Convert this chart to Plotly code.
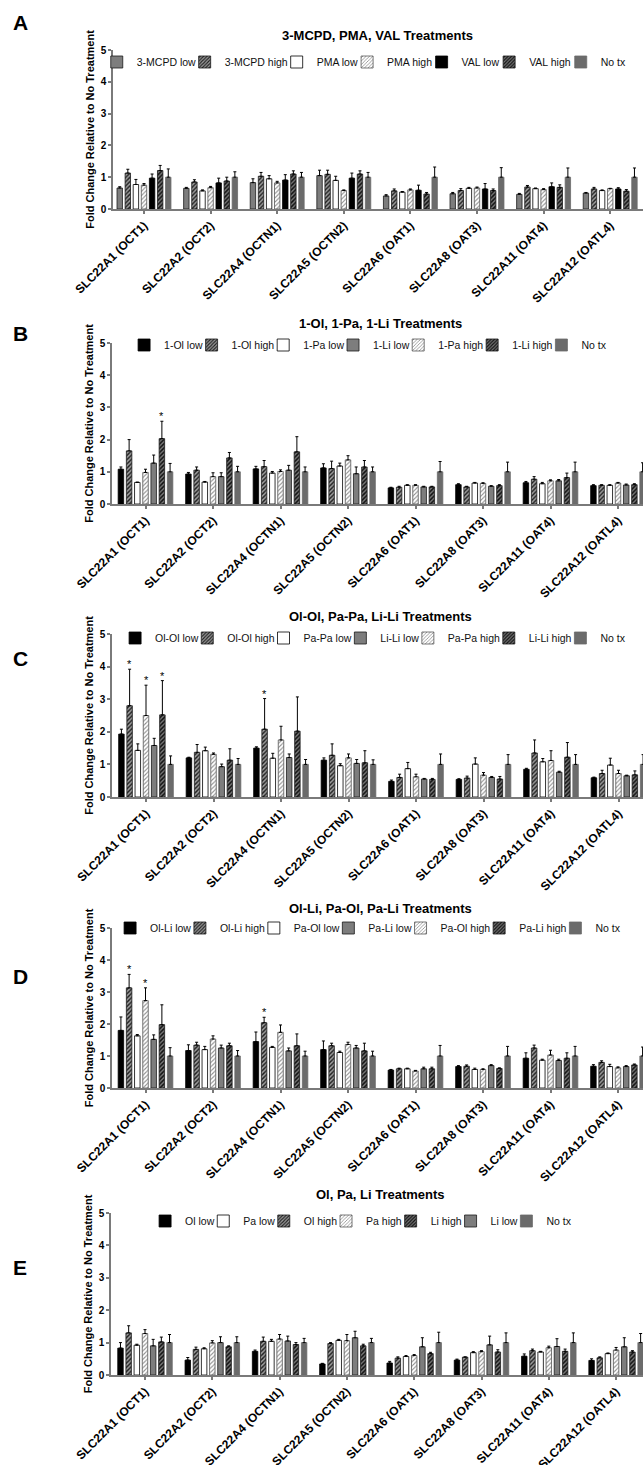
import plotly.graph_objects as go

FIG_W, FIG_H = 643, 1465
FONT = "Liberation Sans, Arial, sans-serif"

categories = ["SLC22A1 (OCT1)", "SLC22A2 (OCT2)", "SLC22A4 (OCTN1)", "SLC22A5 (OCTN2)",
              "SLC22A6 (OAT1)", "SLC22A8 (OAT3)", "SLC22A11 (OAT4)", "SLC22A12 (OATL4)"]
y_ticks = [0, 1, 2, 3, 4, 5]

# ---------------- Panel A: 3-MCPD, PMA, VAL ----------------
a_names = ["3-MCPD low", "3-MCPD high", "PMA low", "PMA high", "VAL low", "VAL high", "No tx"]
a_mcpd_low = [0.66, 0.65, 0.83, 1.05, 0.41, 0.48, 0.46, 0.50]
a_mcpd_low_err = [0.04, 0.03, 0.12, 0.17, 0.04, 0.04, 0.03, 0.02]
a_mcpd_high = [1.13, 0.85, 1.03, 1.09, 0.57, 0.58, 0.69, 0.63]
a_mcpd_high_err = [0.12, 0.07, 0.12, 0.13, 0.06, 0.06, 0.05, 0.05]
a_pma_low = [0.77, 0.57, 0.95, 0.90, 0.53, 0.65, 0.64, 0.58]
a_pma_low_err = [0.16, 0.03, 0.10, 0.13, 0.02, 0.03, 0.02, 0.02]
a_pma_high = [0.75, 0.67, 0.82, 0.58, 0.60, 0.66, 0.61, 0.64]
a_pma_high_err = [0.05, 0.04, 0.05, 0.02, 0.03, 0.03, 0.03, 0.01]
a_val_low = [0.97, 0.82, 0.91, 0.97, 0.59, 0.63, 0.70, 0.63]
a_val_low_err = [0.13, 0.15, 0.17, 0.16, 0.16, 0.17, 0.12, 0.04]
a_val_high = [1.21, 0.88, 1.10, 1.10, 0.47, 0.58, 0.68, 0.56]
a_val_high_err = [0.16, 0.12, 0.10, 0.10, 0.05, 0.05, 0.08, 0.05]
a_notx = [1.0, 1.0, 1.0, 1.0, 1.0, 1.0, 1.0, 1.0]
a_notx_err = [0.26, 0.17, 0.15, 0.15, 0.32, 0.30, 0.29, 0.29]

# ---------------- Panel B: 1-Ol, 1-Pa, 1-Li ----------------
b_names = ["1-Ol low", "1-Ol high", "1-Pa low", "1-Pa high", "1-Li low", "1-Li high", "No tx"]
b_ol_low = [1.08, 0.93, 1.09, 1.12, 0.50, 0.60, 0.66, 0.57]
b_ol_low_err = [0.07, 0.05, 0.08, 0.13, 0.02, 0.03, 0.04, 0.03]
b_ol_high = [1.65, 1.05, 1.16, 1.10, 0.52, 0.53, 0.77, 0.58]
b_ol_high_err = [0.35, 0.10, 0.19, 0.23, 0.03, 0.02, 0.08, 0.02]
b_pa_low = [0.67, 0.68, 0.96, 1.18, 0.58, 0.65, 0.63, 0.58]
b_pa_low_err = [0.01, 0.02, 0.05, 0.09, 0.02, 0.02, 0.04, 0.02]
b_pa_high = [0.98, 0.85, 1.01, 1.37, 0.58, 0.64, 0.72, 0.65]
b_pa_high_err = [0.10, 0.12, 0.05, 0.13, 0.02, 0.02, 0.03, 0.02]
b_li_low = [1.27, 0.85, 1.05, 0.94, 0.53, 0.55, 0.72, 0.59]
b_li_low_err = [0.25, 0.12, 0.15, 0.21, 0.02, 0.02, 0.04, 0.03]
b_li_high = [2.03, 1.43, 1.62, 1.15, 0.53, 0.57, 0.82, 0.60]
b_li_high_err = [0.54, 0.17, 0.47, 0.20, 0.02, 0.03, 0.14, 0.03]
b_notx = [1.0, 1.0, 1.0, 1.0, 1.0, 1.0, 1.0, 1.0]
b_notx_err = [0.26, 0.17, 0.15, 0.15, 0.32, 0.30, 0.30, 0.28]

# ---------------- Panel C: Ol-Ol, Pa-Pa, Li-Li ----------------
c_names = ["Ol-Ol low", "Ol-Ol high", "Pa-Pa low", "Pa-Pa high", "Li-Li low", "Li-Li high", "No tx"]
c_olol_low = [1.93, 1.20, 1.50, 1.13, 0.48, 0.54, 0.85, 0.59]
c_olol_low_err = [0.15, 0.02, 0.04, 0.07, 0.04, 0.02, 0.03, 0.02]
c_olol_high = [2.80, 1.37, 2.08, 1.28, 0.60, 0.58, 1.35, 0.72]
c_olol_high_err = [1.12, 0.24, 0.94, 0.35, 0.10, 0.06, 0.40, 0.10]
c_papa_low = [1.43, 1.42, 1.19, 0.96, 0.87, 1.01, 1.08, 0.98]
c_papa_low_err = [0.20, 0.11, 0.15, 0.06, 0.19, 0.19, 0.10, 0.21]
c_papa_high = [2.50, 1.31, 1.75, 1.20, 0.62, 0.67, 1.12, 0.72]
c_papa_high_err = [0.93, 0.04, 0.42, 0.12, 0.08, 0.08, 0.30, 0.10]
c_lili_low = [1.58, 0.93, 1.21, 1.03, 0.55, 0.60, 0.76, 0.65]
c_lili_low_err = [0.22, 0.08, 0.11, 0.12, 0.02, 0.03, 0.03, 0.02]
c_lili_high = [2.52, 1.13, 2.02, 1.05, 0.54, 0.55, 1.22, 0.68]
c_lili_high_err = [1.05, 0.35, 1.05, 0.37, 0.03, 0.08, 0.45, 0.12]
c_notx = [1.0, 1.0, 1.0, 1.0, 1.0, 1.0, 1.0, 1.0]
c_notx_err = [0.26, 0.18, 0.15, 0.14, 0.32, 0.30, 0.30, 0.30]

# ---------------- Panel D: Ol-Li, Pa-Ol, Pa-Li ----------------
d_names = ["Ol-Li low", "Ol-Li high", "Pa-Ol low", "Pa-Ol high", "Pa-Li low", "Pa-Li high", "No tx"]
d_olli_low = [1.80, 1.17, 1.45, 1.20, 0.56, 0.67, 0.93, 0.68]
d_olli_low_err = [0.42, 0.18, 0.30, 0.27, 0.02, 0.03, 0.17, 0.05]
d_olli_high = [3.13, 1.34, 2.04, 1.32, 0.60, 0.68, 1.25, 0.80]
d_olli_high_err = [0.42, 0.09, 0.17, 0.08, 0.02, 0.04, 0.09, 0.05]
d_paol_low = [1.63, 1.20, 1.27, 1.11, 0.60, 0.58, 0.87, 0.67]
d_paol_low_err = [0.04, 0.10, 0.03, 0.04, 0.02, 0.04, 0.03, 0.07]
d_paol_high = [2.73, 1.53, 1.74, 1.36, 0.53, 0.58, 1.03, 0.63]
d_paol_high_err = [0.40, 0.10, 0.23, 0.07, 0.02, 0.02, 0.15, 0.03]
d_pali_low = [1.52, 1.25, 1.16, 1.25, 0.60, 0.70, 0.86, 0.67]
d_pali_low_err = [0.14, 0.09, 0.09, 0.08, 0.05, 0.03, 0.04, 0.03]
d_pali_high = [1.98, 1.32, 1.32, 1.16, 0.60, 0.61, 0.93, 0.72]
d_pali_high_err = [0.62, 0.08, 0.37, 0.24, 0.05, 0.02, 0.17, 0.03]
d_notx = [1.0, 1.0, 1.0, 1.0, 1.0, 1.0, 1.0, 1.0]
d_notx_err = [0.26, 0.17, 0.15, 0.15, 0.33, 0.30, 0.30, 0.28]

# ---------------- Panel E: Ol, Pa, Li ----------------
e_names = ["Ol low", "Ol high", "Pa low", "Pa high", "Li low", "Li high", "No tx"]
e_ol_low = [0.83, 0.46, 0.73, 0.34, 0.37, 0.46, 0.58, 0.45]
e_ol_low_err = [0.17, 0.08, 0.04, 0.02, 0.05, 0.03, 0.07, 0.05]
e_ol_high = [1.30, 0.79, 1.04, 0.97, 0.52, 0.55, 0.75, 0.53]
e_ol_high_err = [0.22, 0.07, 0.13, 0.03, 0.04, 0.01, 0.05, 0.03]
e_pa_low = [0.92, 0.81, 1.04, 1.07, 0.57, 0.69, 0.71, 0.66]
e_pa_low_err = [0.03, 0.03, 0.06, 0.03, 0.03, 0.03, 0.02, 0.02]
e_pa_high = [1.28, 0.99, 1.11, 1.06, 0.60, 0.72, 0.84, 0.77]
e_pa_high_err = [0.12, 0.07, 0.14, 0.19, 0.03, 0.03, 0.05, 0.08]
e_li_low = [0.90, 1.00, 1.05, 1.15, 0.87, 0.93, 0.88, 0.87]
e_li_low_err = [0.20, 0.18, 0.15, 0.20, 0.28, 0.27, 0.24, 0.28]
e_li_high = [1.02, 0.87, 0.94, 0.90, 0.66, 0.71, 0.73, 0.71]
e_li_high_err = [0.15, 0.03, 0.06, 0.05, 0.04, 0.07, 0.07, 0.04]
e_notx = [1.0, 1.0, 1.0, 1.0, 1.0, 1.0, 1.0, 1.0]
e_notx_err = [0.25, 0.18, 0.13, 0.13, 0.32, 0.30, 0.30, 0.28]

# significance marks: (series index, category index)
b_stars = [(5, 0)]
c_stars = [(1, 0), (3, 0), (5, 0), (1, 2)]
d_stars = [(1, 0), (3, 0), (1, 2)]

# ---------------- styles ----------------
OUT = "#1a1a1a"
STYLES = {
    "black": dict(color="#000000", line=dict(color="#000000", width=0.8)),
    "white": dict(color="#ffffff", line=dict(color="#000000", width=0.8)),
    "gray": dict(color="#7d7d7d", line=dict(color=OUT, width=0.8)),
    "darkhatch": dict(color="#9c9c9c", line=dict(color=OUT, width=0.8),
                      pattern=dict(shape="/", fgcolor="#1e1e1e", bgcolor="#9c9c9c", size=3, solidity=0.45)),
    "lighthatch": dict(color="#ffffff", line=dict(color="#555555", width=0.8),
                       pattern=dict(shape="/", fgcolor="#8f8f8f", bgcolor="#ffffff", size=3, solidity=0.35)),
    "darkhatch2": dict(color="#777777", line=dict(color=OUT, width=0.8),
                       pattern=dict(shape="/", fgcolor="#111111", bgcolor="#777777", size=3, solidity=0.5)),
    "notx": dict(color="#6b6b6b", line=dict(color="#6b6b6b", width=0.8)),
}
STD = ["black", "darkhatch", "white", "lighthatch", "gray", "darkhatch2", "notx"]

panels = [
    dict(letter="A", title="3-MCPD, PMA, VAL Treatments", names=a_names,
         means=[a_mcpd_low, a_mcpd_high, a_pma_low, a_pma_high, a_val_low, a_val_high, a_notx],
         errs=[a_mcpd_low_err, a_mcpd_high_err, a_pma_low_err, a_pma_high_err, a_val_low_err, a_val_high_err, a_notx_err],
         styles=["gray", "darkhatch", "white", "lighthatch", "black", "darkhatch2", "notx"],
         legend_order=[0, 1, 2, 3, 4, 5, 6], stars=[],
         x_left=113, c0=144, step=66.6, y_top=50, y_bot=209,
         title_x=377, title_y=35, legend_cx=368, legend_y=62, letter_y=23),
    dict(letter="B", title="1-Ol, 1-Pa, 1-Li Treatments", names=b_names,
         means=[b_ol_low, b_ol_high, b_pa_low, b_pa_high, b_li_low, b_li_high, b_notx],
         errs=[b_ol_low_err, b_ol_high_err, b_pa_low_err, b_pa_high_err, b_li_low_err, b_li_high_err, b_notx_err],
         styles=STD, legend_order=[0, 1, 2, 4, 3, 5, 6], stars=b_stars,
         x_left=112, c0=145.5, step=67.5, y_top=343, y_bot=504,
         title_x=380, title_y=323, legend_cx=372, legend_y=345, letter_y=333),
    dict(letter="C", title="Ol-Ol, Pa-Pa, Li-Li Treatments", names=c_names,
         means=[c_olol_low, c_olol_high, c_papa_low, c_papa_high, c_lili_low, c_lili_high, c_notx],
         errs=[c_olol_low_err, c_olol_high_err, c_papa_low_err, c_papa_high_err, c_lili_low_err, c_lili_high_err, c_notx_err],
         styles=STD, legend_order=[0, 1, 2, 4, 3, 5, 6], stars=c_stars,
         x_left=112, c0=146, step=67.5, y_top=634, y_bot=797,
         title_x=380, title_y=616, legend_cx=377, legend_y=638, letter_y=658),
    dict(letter="D", title="Ol-Li, Pa-Ol, Pa-Li Treatments", names=d_names,
         means=[d_olli_low, d_olli_high, d_paol_low, d_paol_high, d_pali_low, d_pali_high, d_notx],
         errs=[d_olli_low_err, d_olli_high_err, d_paol_low_err, d_paol_high_err, d_pali_low_err, d_pali_high_err, d_notx_err],
         styles=STD, legend_order=[0, 1, 2, 4, 3, 5, 6], stars=d_stars,
         x_left=112, c0=145.5, step=67.5, y_top=928, y_bot=1088,
         title_x=380, title_y=908, legend_cx=372, legend_y=928, letter_y=976),
    dict(letter="E", title="Ol, Pa, Li Treatments", names=e_names,
         means=[e_ol_low, e_ol_high, e_pa_low, e_pa_high, e_li_low, e_li_high, e_notx],
         errs=[e_ol_low_err, e_ol_high_err, e_pa_low_err, e_pa_high_err, e_li_low_err, e_li_high_err, e_notx_err],
         styles=STD, legend_order=[0, 2, 1, 3, 5, 4, 6], stars=[],
         x_left=111, c0=145, step=67.3, y_top=1213, y_bot=1375,
         title_x=380, title_y=1194, legend_cx=365, legend_y=1221, letter_y=1267),
]

# Arial advance widths (1/1000 em) for legend layout
ARIAL = {" ": 278, "-": 333, "A": 667, "C": 722, "D": 722, "L": 556, "M": 833, "N": 722,
         "O": 778, "P": 667, "V": 667, "a": 556, "g": 556, "h": 556, "i": 222, "l": 222,
         "o": 556, "t": 278, "w": 722, "x": 500}


def text_w(s, size):
    return sum(ARIAL.get(ch, 556) for ch in s) * size / 1000.0


LEG_SIZE = 10.5
BARGAP = 0.15
NSER = 7
AXC = "#7a7a7a"

fig = go.Figure()
layout = dict(
    width=FIG_W, height=FIG_H, margin=dict(l=0, r=0, t=0, b=0),
    paper_bgcolor="white", plot_bgcolor="white", template="none",
    barmode="group", bargap=BARGAP, bargroupgap=0.33,
    font=dict(family=FONT, color="#000000"),
    annotations=[],
)

for i, p in enumerate(panels):
    n = "" if i == 0 else str(i + 1)
    xa, ya, lg = "x" + n, "y" + n, "legend" + n

    # legend geometry (per-item widths)
    order = p["legend_order"]
    tws = [text_w(p["names"][k], LEG_SIZE) for k in order]
    pitches = [tw + 29 for tw in tws[:-1]]
    span = sum(pitches) + 40 + tws[-1] - 14
    start0 = p["legend_cx"] - span / 2 - 14
    lw_by_series = {}
    for pos, k in enumerate(order):
        lw_by_series[k] = (pitches[pos] - 45) if pos < len(order) - 1 else tws[-1]

    for k in range(NSER):
        fig.add_trace(go.Bar(
            x=categories, y=p["means"][k], name=p["names"][k],
            marker=STYLES[p["styles"][k]],
            error_y=dict(type="data", array=p["errs"][k], arrayminus=[0] * len(categories),
                         symmetric=False, color="#000000", thickness=1, width=1.5),
            xaxis=xa, yaxis=ya, legend=lg,
            legendrank=order.index(k) + 1, legendwidth=lw_by_series[k],
            hoverinfo="skip",
        ))

    r0 = (p["x_left"] - p["c0"]) / p["step"]
    r1 = (FIG_W - p["c0"]) / p["step"]
    layout["xaxis" + n] = dict(
        domain=[p["x_left"] / FIG_W, 1], range=[r0, r1], anchor=ya, type="category",
        showline=True, linecolor=AXC, linewidth=1.5, ticks="outside", ticklen=3,
        tickcolor=AXC, tickwidth=1.5, tickangle=-45, showgrid=False, zeroline=False,
        tickfont=dict(family=FONT, size=12, weight="bold", color="#000000"),
        automargin=False, fixedrange=True,
    )
    layout["yaxis" + n] = dict(
        domain=[1 - p["y_bot"] / FIG_H, 1 - p["y_top"] / FIG_H], range=[0, 5], anchor=xa,
        tickvals=y_ticks, showline=True, linecolor=AXC, linewidth=1.5, ticks="outside",
        ticklen=3, tickcolor=AXC, tickwidth=1.5, showgrid=False, zeroline=False,
        tickfont=dict(family=FONT, size=10, weight="bold", color="#000000"),
        title=dict(text="Fold Change Relative to No Treatment", standoff=4,
                   font=dict(family=FONT, size=11, weight="bold", color="#000000")),
        automargin=False, fixedrange=True,
    )
    layout[lg] = dict(
        orientation="h", x=start0 / FIG_W, xanchor="left", xref="paper",
        y=1 - p["legend_y"] / FIG_H, yanchor="middle", yref="paper",
        bgcolor="rgba(0,0,0,0)", borderwidth=0, traceorder="normal",
        font=dict(family=FONT, size=LEG_SIZE, color="#111111"),
    )
    # panel letter and title
    layout["annotations"].append(dict(
        text=p["letter"], x=20 / FIG_W, y=1 - p["letter_y"] / FIG_H, xref="paper", yref="paper",
        xanchor="center", yanchor="middle", showarrow=False,
        font=dict(family=FONT, size=21, weight="bold", color="#000000")))
    layout["annotations"].append(dict(
        text=p["title"], x=p["title_x"] / FIG_W, y=1 - p["title_y"] / FIG_H, xref="paper", yref="paper",
        xanchor="center", yanchor="middle", showarrow=False,
        font=dict(family=FONT, size=13, weight="bold", color="#000000")))
    # significance asterisks, positioned from the grouped-bar geometry
    slot = (1 - BARGAP) / NSER
    for (k, c) in p["stars"]:
        layout["annotations"].append(dict(
            text="*", x=c + (k - (NSER - 1) / 2) * slot, y=p["means"][k][c] + p["errs"][k][c],
            xref=xa, yref=ya, xanchor="center", yanchor="bottom", yshift=-3, showarrow=False,
            font=dict(family=FONT, size=11, color="#000000")))

fig.update_layout(**layout)
fig.write_html(
    "out.html",
    config={"displayModeBar": False},
    post_script="document.documentElement.style.margin='0';document.body.style.margin='0';",
)
